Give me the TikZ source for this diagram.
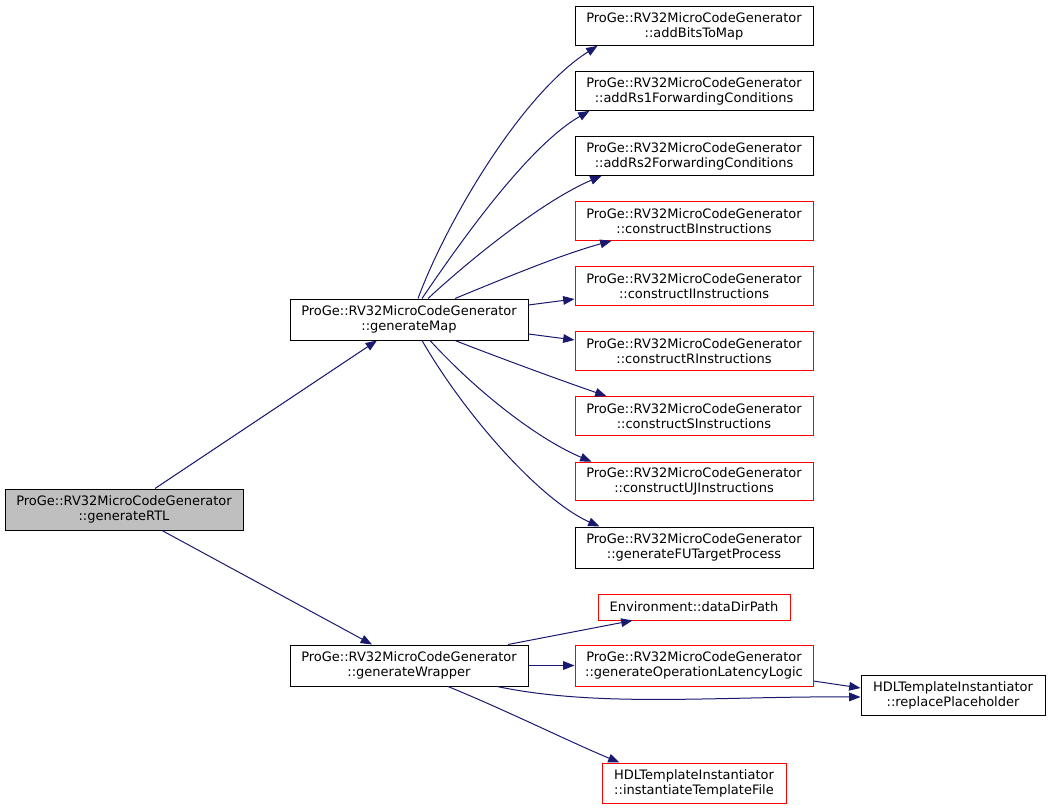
\documentclass[tikz,border=0pt]{standalone}
\usepackage{fontspec}
\setmainfont{DejaVu Sans}
\usetikzlibrary{arrows.meta,calc}
\definecolor{edgeblue}{HTML}{191970}
\definecolor{grayfill}{HTML}{BFBFBF}
\definecolor{boxred}{HTML}{FF0000}
\begin{document}
\begin{tikzpicture}[x=0.75pt,y=-0.75pt,
  box/.style={draw=black,line width=0.75pt,rectangle,inner sep=0pt,align=center,
    font=\fontsize{9.75pt}{11.25pt}\selectfont,minimum width=178.5pt,minimum height=29pt},
  redbox/.style={box,draw=boxred},
  edge/.style={draw=edgeblue,line width=0.75pt,-{Triangle[length=8.5pt,width=6.5pt]}}]
\useasboundingbox (0,0) rectangle (1049,809);
\fill[white] (0,0) rectangle (1049,809);

\node[box,fill=grayfill,minimum height=30.75pt] (rtl) at (124,509.5) {ProGe::RV32MicroCodeGenerator\\::generateRTL};
\node[box,minimum height=30.75pt] (gm) at (409,319.5) {ProGe::RV32MicroCodeGenerator\\::generateMap};
\node[box,minimum height=30.75pt] (gw) at (409,665.5) {ProGe::RV32MicroCodeGenerator\\::generateWrapper};

\node[box] (ab) at (694,26) {ProGe::RV32MicroCodeGenerator\\::addBitsToMap};
\node[box] (rs1) at (694,91) {ProGe::RV32MicroCodeGenerator\\::addRs1ForwardingConditions};
\node[box] (rs2) at (694,156) {ProGe::RV32MicroCodeGenerator\\::addRs2ForwardingConditions};
\node[redbox] (cb) at (694,221) {ProGe::RV32MicroCodeGenerator\\::constructBInstructions};
\node[redbox] (ci) at (694,286) {ProGe::RV32MicroCodeGenerator\\::constructIInstructions};
\node[redbox] (cr) at (694,351) {ProGe::RV32MicroCodeGenerator\\::constructRInstructions};
\node[redbox] (cs) at (694,416) {ProGe::RV32MicroCodeGenerator\\::constructSInstructions};
\node[redbox] (cuj) at (694,481.5) {ProGe::RV32MicroCodeGenerator\\::constructUJInstructions};
\node[box,minimum height=30.75pt] (fu) at (694,547.5) {ProGe::RV32MicroCodeGenerator\\::generateFUTargetProcess};

\node[redbox,minimum width=144pt,minimum height=19.5pt] (dd) at (694,607) {Environment::dataDirPath};
\node[redbox,minimum height=30.75pt] (go) at (694,665.5) {ProGe::RV32MicroCodeGenerator\\::generateOperationLatencyLogic};
\node[box,minimum width=138pt,minimum height=30pt] (rp) at (953,695) {HDLTemplateInstantiator\\::replacePlaceholder};
\node[redbox,minimum width=138pt,minimum height=30pt] (it) at (694,783) {HDLTemplateInstantiator\\::instantiateTemplateFile};

% generateRTL edges
\draw[edge] ($(rtl.north)+(31,0)$) -- ($(gm.south)+(-32,0)$);
\draw[edge] ($(rtl.south)+(38,0)$) -- ($(gw.north)+(-37,0)$);

% generateMap edges
\draw[edge] ($(gm.north)+(9,0)$) .. controls (445,225) and (520,95) .. ($(ab.south west)+(23,0)$);
\draw[edge] ($(gm.north)+(13,0)$) .. controls (465,235) and (530,145) .. ($(rs1.south west)+(15,0)$);
\draw[edge] ($(gm.north)+(19,0)$) .. controls (475,255) and (545,200) .. ($(rs2.south west)+(27,0)$);
\draw[edge] ($(gm.north)+(46,0)$) .. controls (505,278) and (560,255) .. ($(cb.south west)+(37,0)$);
\draw[edge] ($(gm.east)+(0,-14.5)$) -- ($(ci.west)+(0,13)$);
\draw[edge] ($(gm.east)+(0,14.5)$) -- ($(cr.west)+(0,-11)$);
\draw[edge] ($(gm.south)+(46,0)$) .. controls (505,360) and (560,380) .. ($(cs.north west)+(32,0)$);
\draw[edge] ($(gm.south)+(21,0)$) .. controls (480,395) and (540,440) .. ($(cuj.north west)+(17,0)$);
\draw[edge] ($(gm.south)+(13,0)$) .. controls (465,415) and (540,500) .. ($(fu.north west)+(25,0)$);

% generateWrapper edges
\draw[edge] ($(gw.north)+(99,0)$) -- ($(dd.south west)+(35,0)$);
\draw[edge] (gw.east) -- (go.west);
\draw[edge] ($(gw.south)+(88,0)$) .. controls (600,708) and (720,696) .. ($(rp.west)+(0,2)$);
\draw[edge] ($(gw.south)+(39,0)$) .. controls (510,712) and (570,742) .. ($(it.north west)+(18,0)$);
\draw[edge] ($(go.east)+(0,15.5)$) -- ($(rp.west)+(0,-7)$);
\end{tikzpicture}
\end{document}
